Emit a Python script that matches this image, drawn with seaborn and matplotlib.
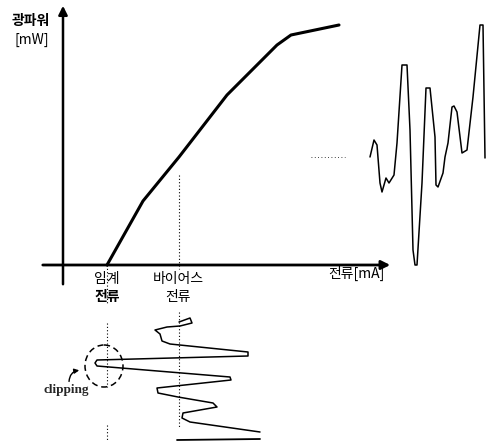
import matplotlib
matplotlib.use("Agg")
import matplotlib.pyplot as plt
from matplotlib.patches import Ellipse
import pandas as pd
import seaborn as sns

# L-I curve of the laser diode (current in mA, optical power in mW)
li_current = [11, 20, 29, 41, 53.5, 57, 69]
li_power = [0, 16, 27, 42.5, 55, 57.5, 60]

threshold_current = 11
bias_current = 29
bias_power = 27

# input current signal (time runs downward)
in_time = [6, 4, 6.5, 8, 8.5, 10, 12, 15.5, 17, 21, 23, 25, 26.5, 28, 33.5, 35,
           39, 41.5, 43.5, 46.5, 48.5, 51.5, 54, 56, 61]
in_current = [29, 31.75, 32.25, 29.25, 26, 23, 24.25, 24.75, 26.75, 46.25, 46.25,
              8.5, 8, 8.5, 41.75, 42, 23.5, 23.75, 28.75, 37.5, 38.5, 30, 29.75,
              31.75, 49.25]
tail_time = [65, 64.5]
tail_current = [28.5, 49.25]

# output light signal (time runs to the right)
out_time = [2.5, 4.5, 6, 7.5, 8.5, 10.5, 12, 14.5, 16, 18.5, 21, 22.5, 24, 25, 26,
            28.5, 30.5, 32.5, 35, 35.5, 36.5, 39, 40, 41.5, 43.5, 44.5, 46, 48.5,
            51, 54, 57.5, 59, 60]
out_power = [27, 31.25, 30, 20.5, 18.25, 21.75, 20.5, 22.5, 30.5, 50, 50, 33.75,
             3.75, 0, 0, 20.5, 44.25, 44.25, 32, 20, 19.5, 23, 27, 30.5, 39.5,
             39.75, 38.25, 28, 28.75, 42, 60, 60, 26.75]

sns.set_style("white")
plt.rcParams["font.family"] = ["Noto Sans CJK KR", "DejaVu Sans"]
plt.rcParams["lines.solid_joinstyle"] = "round"

fig = plt.figure(figsize=(4.9, 4.42), dpi=100)
ax = fig.add_axes([0, 0, 1, 1])
ax_in = fig.add_axes([0, 0, 1, 132 / 442], sharex=ax)
ax_out = fig.add_axes([365 / 490, 0, 125 / 490, 1], sharey=ax)
for a in (ax, ax_in, ax_out):
    a.set_axis_off()
    a.patch.set_alpha(0)

li = pd.DataFrame({"current": li_current, "power": li_power})
sns.lineplot(data=li, x="current", y="power", color="black", lw=2.2,
             sort=False, estimator=None, ax=ax)

sig_in = pd.DataFrame({"current": in_current, "time": in_time})
sns.lineplot(data=sig_in, x="current", y="time", color="black", lw=1.1,
             sort=False, estimator=None, ax=ax_in)
sns.lineplot(x=tail_current, y=tail_time, color="black", lw=1.3,
             sort=False, estimator=None, ax=ax_in)

sig_out = pd.DataFrame({"time": out_time, "power": out_power})
sns.lineplot(data=sig_out, x="time", y="power", color="black", lw=1.1,
             sort=False, estimator=None, ax=ax_out)

# axes with arrows
ax.annotate("", xy=(0, 65.5), xytext=(0, -5.5),
            arrowprops=dict(arrowstyle="-|>", lw=1.8, color="black", mutation_scale=13))
ax.annotate("", xy=(82.5, 0), xytext=(-5.75, 0),
            arrowprops=dict(arrowstyle="-|>", lw=2.0, color="black", mutation_scale=13))

# dotted guide lines
dot = dict(color="black", lw=0.8, linestyle=(0, (1, 2)))
ax.plot([bias_current, bias_current], [22.5, -1], **dot)
ax.plot([threshold_current, threshold_current], [0, -10], **dot)
ax.plot([62, 70.5], [bias_power, bias_power], color="black", lw=0.6, linestyle=(0, (1, 3)))
ax_in.plot([threshold_current, threshold_current], [6.5, 38.5], **dot)
ax_in.plot([threshold_current, threshold_current], [57.5, 65], **dot)
ax_in.plot([bias_current, bias_current], [1, 59], **dot)

# clipping marker
ax_in.add_patch(Ellipse((10.25, 28), 9.5, 21, fill=False, lw=1.1,
                        linestyle=(0, (4, 2.5)), color="black"))
ax.annotate("", xy=(4.75, -26.25), xytext=(1.5, -29.8),
            arrowprops=dict(arrowstyle="-|>", lw=1.0, color="black", mutation_scale=7,
                            connectionstyle="arc3,rad=-0.5"))

# labels
kw = dict(ha="center", va="center", fontsize=10, color="black")
ax.text(-8, 61, "광파워", fontweight="bold", **kw)
ax.text(-7.75, 56.25, "[mW]", **kw)
ax.text(threshold_current, -3.5, "임계", **kw)
ax.text(threshold_current, -8, "전류", fontweight="bold", **kw)
ax.text(bias_current - 0.25, -3.5, "바이어스", **kw)
ax.text(bias_current - 0.25, -8, "전류", **kw)
ax.text(73.25, -2, "전류[mA]", **kw)
ax.text(0.75, -31.25, "clipping", ha="center", va="center", fontsize=9.5,
        family="Liberation Serif", fontweight="bold")

ax.set_xlim(-63 / 4, (490 - 63) / 4)
ax.set_ylim(-(442 - 265) / 4, 265 / 4)
ax_in.set_ylim(66, 0)
ax_out.set_xlim(0, 62.5)

fig.savefig("out.png", dpi=100)
